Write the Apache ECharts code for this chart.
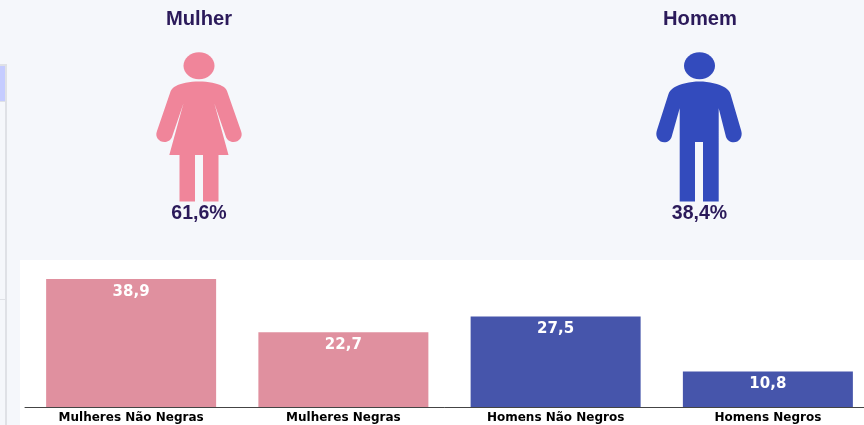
<!DOCTYPE html>
<html><head><meta charset="utf-8">
<style>html,body{margin:0;padding:0;background:#f5f7fb}#c{width:864px;height:425px}</style>
<script src="https://cdn.jsdelivr.net/npm/echarts@6/dist/echarts.min.js"></script>
</head><body><div id="c"></div>
<script>
const categories = ['Mulheres Não Negras','Mulheres Negras','Homens Não Negros','Homens Negros'];
const values = [38.9,22.7,27.5,10.8];
const barColors = ['#e0909f','#e0909f','#4655ab','#4655ab'];
const groups = ['Mulher','Homem'];
const shares = ['61,6%','38,4%'];
const womanPath = 'M199 81.5C208 81.5 218 83.5 222 86C225 87.5 226 88.5 227 91L241 131C243.5 137 239 142 233.5 142C229.5 142 227 139.5 226 137L214.3 103.3L228.5 155H218.5V201.5H203V155H195V201.5H179.5V155H169.3L183.5 103.3L172 137C171 139.5 168.5 142 164.5 142C159 142 154.5 137 157 131L170.7 91C172 88.5 173 87.5 176 86C180 83.5 190 81.5 199 81.5Z';
const manPath = 'M699.5 81.5C709 81.5 719 84 725 87.5C728 89.5 729.5 91 730.5 94L741.3 131C743 137 739 142.3 733.8 142.3C730 142.3 727 140 726 137L718.7 108.3V201.5H703V142H695V201.5H679.7V108.3L671.6 137C670.6 140 668 142.3 664.2 142.3C659 142.3 655 137 656.7 131L668.5 94C669.5 91 671 89.5 674 87.5C680 84 690 81.5 699.5 81.5Z';
echarts.graphic.registerShape('womanIcon', echarts.graphic.extendPath(womanPath));
echarts.graphic.registerShape('manIcon', echarts.graphic.extendPath(manPath));
const chart = echarts.init(document.getElementById('c'));
const bold = '"Liberation Sans", Arial, sans-serif';
const txt = (x,y,t,s) => ({type:'text',x,y,scaleX:s,style:{text:t,fontFamily:bold,fontWeight:'bold',fontSize:21,fill:'#2b1a5a',textAlign:'center',textVerticalAlign:'middle'}});
chart.setOption({
  animation:false,
  backgroundColor:'#f5f7fb',
  graphic:{elements:[
    {type:'rect',z:-1,shape:{x:20,y:260,width:844,height:165},style:{fill:'#ffffff'}},
    {type:'rect',shape:{x:0,y:64,width:7,height:2},style:{fill:'#dfe1e6'}},
    {type:'rect',shape:{x:0,y:66,width:5,height:35},style:{fill:'#c5ccff'}},
    {type:'rect',shape:{x:0,y:101,width:5,height:1},style:{fill:'#dfe1e6'}},
    {type:'rect',shape:{x:5,y:66,width:2,height:359},style:{fill:'#dfe1e6'}},
    {type:'rect',shape:{x:0,y:299,width:5,height:1},style:{fill:'#dfe1e6'}},
    txt(199,19.5,groups[0],0.96), txt(700,19.5,groups[1],0.96),
    txt(199,213.5,shares[0],0.93), txt(699.5,213.5,shares[1],0.93),
    {type:'ellipse',shape:{cx:199,cy:65.7,rx:15.5,ry:13.5},style:{fill:'#f0859a'}},
    {type:'ellipse',shape:{cx:699.5,cy:65.7,rx:15.5,ry:13.5},style:{fill:'#334bbd'}},
    {type:'womanIcon',style:{fill:'#f0859a'}},
    {type:'manIcon',style:{fill:'#334bbd'}}
  ]},
  grid:{left:25,top:275.5,right:-10,height:131.5,outerBoundsMode:'none'},
  xAxis:{type:'category',data:categories,
    axisLine:{lineStyle:{color:'#444',width:1}},
    axisTick:{alignWithLabel:true,length:3,lineStyle:{color:'#444'}},
    axisLabel:{interval:0,color:'#000',fontFamily:'"DejaVu Sans"',fontWeight:'bold',fontSize:12,margin:5}},
  yAxis:{type:'value',min:0,max:40,show:false,splitLine:{show:false}},
  series:[{type:'bar',barWidth:170,
    data:values.map((v,i)=>({value:v,itemStyle:{color:barColors[i]}})),
    label:{show:true,position:'insideTop',distance:5,color:'#fff',fontFamily:'"DejaVu Sans"',fontWeight:'bold',fontSize:15,
      formatter:p=>String(p.value).replace('.',',')}}]
});
</script></body></html>
